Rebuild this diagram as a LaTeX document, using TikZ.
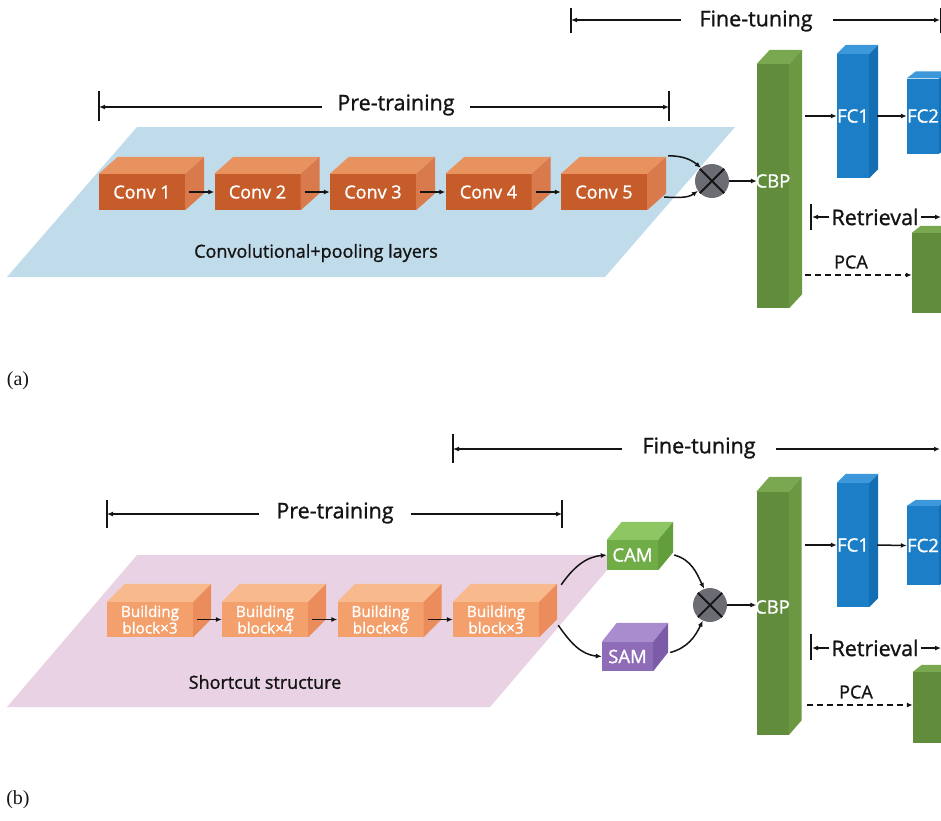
\documentclass[tikz,border=0pt]{standalone}
\usepackage{fontspec}
\setmainfont{Open Sans}[FakeBold=1.2]
\newfontfamily\labelserif{Liberation Serif}
\usetikzlibrary{arrows.meta,calc}
\definecolor{planeblue}{RGB}{192,220,234}
\definecolor{planepink}{RGB}{233,210,228}
\definecolor{convfront}{RGB}{198,92,42}
\definecolor{convtop}{RGB}{232,146,96}
\definecolor{convside}{RGB}{216,122,76}
\definecolor{bbfront}{RGB}{244,160,108}
\definecolor{bbtop}{RGB}{248,186,140}
\definecolor{bbside}{RGB}{234,140,92}
\definecolor{grfront}{RGB}{96,140,60}
\definecolor{grtop}{RGB}{122,168,80}
\definecolor{grside}{RGB}{108,152,68}
\definecolor{blfront}{RGB}{28,126,198}
\definecolor{bltop}{RGB}{60,152,218}
\definecolor{blside}{RGB}{20,110,180}
\definecolor{camfront}{RGB}{112,173,71}
\definecolor{camtop}{RGB}{142,198,100}
\definecolor{camside}{RGB}{98,158,60}
\definecolor{samfront}{RGB}{142,108,184}
\definecolor{samtop}{RGB}{168,140,206}
\definecolor{samside}{RGB}{124,92,168}
\definecolor{otgray}{RGB}{108,108,116}
\definecolor{ink}{RGB}{20,20,20}
\tikzset{
  conn/.style={-{Latex[length=6pt,width=5pt]}, line width=1.5pt, draw=ink},
  dconn/.style={conn, dash pattern=on 6pt off 4pt},
  bar/.style={line width=1.8pt, draw=ink},
  brline/.style={line width=1.8pt, draw=ink, -{Latex[length=6pt,width=5pt]}},
  brtext/.style={text=ink, font=\fontsize{21.5}{25}\selectfont, inner sep=0pt},
  face/.style={inner sep=0pt, text=white},
  convbox/.style={face, fill=convfront, minimum width=86pt, minimum height=36pt, font=\fontsize{18}{21}\selectfont},
  bbbox/.style={face, fill=bbfront, minimum width=86pt, minimum height=35pt, align=center, font=\fontsize{15.3}{16.5}\selectfont},
  barbox/.style={face, minimum width=32pt, font=\fontsize{18.5}{21}\selectfont},
  smallbox/.style={face, minimum width=51pt, minimum height=30pt, font=\fontsize{18.5}{21}\selectfont},
  otimes/.style={circle, fill=otgray, minimum size=34pt, inner sep=0pt},
  plain/.style={text=ink, inner sep=0pt, font=\fontsize{18}{21}\selectfont},
  panel/.style={text=ink, inner sep=0pt, font=\labelserif\fontsize{20}{24}\selectfont},
}
\newcommand\cubesides[5]{%
  \fill[#4] (#1.north west) -- ++(#2,#3) -- ($(#1.north east)+(#2,#3)$) -- (#1.north east) -- cycle;
  \fill[#5] (#1.north east) -- ++(#2,#3) -- ($(#1.south east)+(#2,#3)$) -- (#1.south east) -- cycle;
}
\newcommand\otcross[1]{%
  \draw[line width=1.8pt, ink] (#1.north west) -- (#1.south east) (#1.north east) -- (#1.south west);
}
\begin{document}
\begin{tikzpicture}[x=1pt,y=-1pt]
\useasboundingbox (0,0) rectangle (941,820);
\clip (0,0) rectangle (941,820);

%%%%%%%%%%%%%%%% panel (a)
\fill[planeblue] (137,127) -- (735,127) -- (605,277) -- (7,277) -- cycle;

% Fine-tuning bracket
\node[brtext] (fta) at (756,21) {Fine-tuning};
\coordinate (ftaL) at (571,20);
\coordinate (ftaR) at (940,20);
\draw[bar] (571,8) -- (571,33);
\draw[brline] ([xshift=-18pt]fta.west |- ftaL) -- (ftaL);
\draw[brline] ([xshift=20pt]fta.east |- ftaR) -- (ftaR);
\draw[bar] (941,8) -- (941,33);

% Pre-training bracket
\node[brtext] (pta) at (396,105) {Pre-training};
\coordinate (ptaL) at (99,107);
\coordinate (ptaR) at (669,107);
\draw[bar] (99,91) -- (99,121);
\draw[bar] (669,91) -- (669,121);
\draw[brline] ([xshift=-15pt]pta.west |- ptaL) -- (ptaL);
\draw[brline] ([xshift=15pt]pta.east |- ptaR) -- (ptaR);

% conv boxes
\foreach \i/\x in {1/142,2/257.5,3/373,4/488.5,5/604}{
  \node[convbox] (c\i) at (\x,192) {Conv \i};
  \cubesides{c\i}{19}{-17}{convtop}{convside}
}
\foreach \i/\j in {1/2,2/3,3/4,4/5}{
  \draw[conn] ([xshift=4pt]c\i.east) -- (c\j.west);
}
\node[plain] (convtxt) at (316,253) {Convolutional+pooling layers};

% otimes
\node[otimes] (ota) at (712,181) {};
\otcross{ota}
\draw[conn] ($(c5.north east)+(21,-18)$) to[out=0,in=140] (ota.130);
\draw[conn] ($(c5.south east)+(17,-13)$) to[out=0,in=215] (ota.215);

% CBP
\node[barbox, fill=grfront, minimum height=244pt] (cbpa) at (773,186) {};
\cubesides{cbpa}{13}{-14}{grtop}{grside}
\node[text=white, inner sep=0pt, font=\fontsize{18.5}{21}\selectfont] (cbpta) at (773,181) {CBP};
\draw[conn] (ota.east) -- (cbpa.west |- ota.east);

% FC1, FC2
\node[barbox, fill=blfront, minimum height=124pt] (fc1a) at (853,116) {FC1};
\cubesides{fc1a}{9}{-9}{bltop}{blside}
\node[barbox, fill=blfront, minimum height=75pt] (fc2a) at (923,116) {FC2};
\cubesides{fc2a}{9}{-7}{bltop}{blside}
\coordinate (fcina) at (805,116);
\draw[conn] (fcina) -- (fc1a.west);
\draw[conn] ([xshift=8pt]fc1a.east) -- (fc2a.west);

% Retrieval
\node[brtext, inner xsep=2pt] (reta) at (875,217) {Retrieval};
\draw[bar] (811,204) -- (811,230);
\coordinate (retaL) at (812,217);
\coordinate (retaR) at (941,217);
\draw[brline] (reta.west) -- (retaL);
\draw[brline] (reta.east) -- (retaR);

% PCA
\node[barbox, fill=grfront, minimum height=80pt] (pcaa) at (928,273) {};
\cubesides{pcaa}{9}{-7}{grtop}{grside}
\coordinate (pcaina) at (805,275);
\draw[dconn] (pcaina) -- (pcaa.west |- pcaina);
\node[plain] (pcata) at (851,262) {PCA};

\node[panel] (la) at (18,381) {(a)};

%%%%%%%%%%%%%%%% panel (b)
\fill[planepink] (137,555) -- (620,555) -- (490,707) -- (7,707) -- cycle;

% Fine-tuning bracket
\node[brtext] (ftb) at (699,448) {Fine-tuning};
\coordinate (ftbL) at (453,449);
\coordinate (ftbR) at (940,449);
\draw[bar] (453,434) -- (453,463);
\draw[brline] ([xshift=-20pt]ftb.west |- ftbL) -- (ftbL);
\draw[brline] ([xshift=20pt]ftb.east |- ftbR) -- (ftbR);

% Pre-training bracket
\node[brtext] (ptb) at (335,513) {Pre-training};
\coordinate (ptbL) at (107,514);
\coordinate (ptbR) at (562,514);
\draw[bar] (107,500) -- (107,528);
\draw[bar] (562,500) -- (562,528);
\draw[brline] ([xshift=-17pt]ptb.west |- ptbL) -- (ptbL);
\draw[brline] ([xshift=17pt]ptb.east |- ptbR) -- (ptbR);

% building blocks
\foreach \i/\x/\n in {1/150/3,2/265/4,3/380.5/6,4/496/3}{
  \node[bbbox] (b\i) at (\x,619.5) {Building\\block×\n};
  \cubesides{b\i}{18}{-18}{bbtop}{bbside}
}
\foreach \i/\j in {1/2,2/3,3/4}{
  \draw[conn] ([xshift=4pt]b\i.east) -- (b\j.west);
}
\node[plain] (sctxt) at (265,682) {Shortcut structure};

% CAM, SAM
\node[smallbox, fill=camfront] (cam) at (632.5,555) {CAM};
\cubesides{cam}{15}{-18}{camtop}{camside}
\node[smallbox, fill=samfront, minimum height=29pt] (sam) at (627.5,656.5) {SAM};
\cubesides{sam}{15}{-19}{samtop}{samside}

% otimes
\node[otimes] (otb) at (710,605) {};
\otcross{otb}
\draw[conn] ($(b4.north east)+(22,-17)$) to[out=55,in=185] (cam.west);
\draw[conn] ($(b4.south east)+(19,-12)$) to[out=-55,in=175] (sam.west);
\draw[conn] ($(cam.east)+(16,0)$) to[out=-15,in=115] (otb.110);
\draw[conn] ($(sam.east)+(17,-4)$) to[out=15,in=245] (otb.245);

% CBP
\node[barbox, fill=grfront, minimum height=243pt] (cbpb) at (772.5,613.5) {};
\cubesides{cbpb}{13}{-15}{grtop}{grside}
\node[text=white, inner sep=0pt, font=\fontsize{18.5}{21}\selectfont] (cbptb) at (772.5,607) {CBP};
\draw[conn] (otb.east) -- (cbpb.west |- otb.east);

% FC1, FC2
\node[barbox, fill=blfront, minimum height=124pt] (fc1b) at (853,545) {FC1};
\cubesides{fc1b}{9}{-9}{bltop}{blside}
\node[barbox, fill=blfront, minimum height=79pt] (fc2b) at (923,545.5) {FC2};
\cubesides{fc2b}{9}{-6}{bltop}{blside}
\coordinate (fcinb) at (805,545);
\draw[conn] (fcinb) -- (fc1b.west);
\draw[conn] ([xshift=8pt]fc1b.east) -- (fc2b.west);

% Retrieval
\node[brtext, inner xsep=2pt] (retb) at (875,648) {Retrieval};
\draw[bar] (811,634) -- (811,660);
\coordinate (retbL) at (812,648);
\coordinate (retbR) at (941,648);
\draw[brline] (retb.west) -- (retbL);
\draw[brline] (retb.east) -- (retbR);

% PCA
\node[barbox, fill=grfront, minimum height=71pt] (pcab) at (929,707.5) {};
\cubesides{pcab}{9}{-7}{grtop}{grside}
\coordinate (pcainb) at (807,705);
\draw[dconn] (pcainb) -- (pcab.west |- pcainb);
\node[plain] (pcatb) at (856,692) {PCA};

\node[panel] (lb) at (18,800) {(b)};
\end{tikzpicture}
\end{document}
